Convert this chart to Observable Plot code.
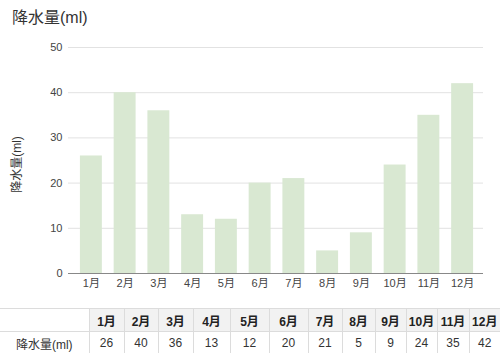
<!DOCTYPE html>
<html>
<head>
<meta charset="utf-8">
<script src="https://cdn.jsdelivr.net/npm/d3@7"></script>
<script src="https://cdn.jsdelivr.net/npm/@observablehq/plot@0.6"></script>
<style>
  body { margin: 0; background: #fff; font-family: "Liberation Sans", Arial, "Noto Sans CJK JP", sans-serif; color: #333; }
  #title { height: 35px; line-height: 36px; padding-left: 12px; font-size: 16px; color: #333; }
  #chart svg { display: block; }
  table { border-collapse: collapse; table-layout: fixed; width: 500px; margin-top: 3px; font-size: 12px; }
  td, th { border: 1px solid #dcdcdc; text-align: center; height: 22px; padding: 0; }
  th { background: #f2f2f2; font-weight: bold; color: #222; }
  th.blank { background: #fff; border-left: none; border-bottom: 1px solid #dcdcdc; }
  td.label { border-left: none; }
  tr:last-child td { border-bottom: none; }
  th:last-child, td:last-child { border-right: none; }
</style>
</head>
<body>
<div id="title">降水量(ml)</div>
<div id="chart"></div>
<div id="table"></div>
<script>
const months = ["1月","2月","3月","4月","5月","6月","7月","8月","9月","10月","11月","12月"];
const rainfall = [26, 40, 36, 13, 12, 20, 21, 5, 9, 24, 35, 42];
const yTicks = [0, 10, 20, 30, 40, 50];
const seriesName = "降水量(ml)";
const colWidths = [89, 35, 34, 35, 37, 39, 39, 34, 33, 31, 31, 32, 31];

const data = months.map((m, i) => ({month: m, value: rainfall[i]}));

const chart = Plot.plot({
  width: 500,
  height: 270,
  marginTop: 12,
  marginBottom: 32,
  marginLeft: 68,
  marginRight: 17,
  style: {fontFamily: '"Liberation Sans", Arial, "Noto Sans CJK JP", sans-serif', fontSize: "11px", color: "#444"},
  x: {domain: months, paddingInner: 0.35, paddingOuter: 0.175, insetLeft: 6, insetRight: 4, round: false, label: null},
  y: {domain: [0, 50], ticks: yTicks, label: null},
  marks: [
    Plot.gridY(yTicks, {stroke: "#e2e2e2", strokeOpacity: 1}),
    Plot.barY(data, {x: "month", y: "value", fill: "#d9e8d2"}),
    Plot.ruleY([0], {stroke: "#888"}),
    Plot.axisX({tickSize: 0, tickPadding: 6, label: null, fontSize: 11}),
    Plot.axisY(yTicks, {tickSize: 0, tickPadding: 6, label: null, fontSize: 11}),
    Plot.text([seriesName], {frameAnchor: "left", textAnchor: "middle", dx: -51, dy: 4, rotate: -90, fontSize: 12, fill: "#333"})
  ]
});
document.getElementById("chart").appendChild(chart);

// table
const table = document.createElement("table");
const cg = document.createElement("colgroup");
colWidths.forEach(w => { const c = document.createElement("col"); c.style.width = w + "px"; cg.appendChild(c); });
table.appendChild(cg);
const hr = document.createElement("tr");
const blank = document.createElement("th"); blank.className = "blank"; hr.appendChild(blank);
months.forEach(m => { const th = document.createElement("th"); th.textContent = m; hr.appendChild(th); });
table.appendChild(hr);
const dr = document.createElement("tr");
const lab = document.createElement("td"); lab.className = "label"; lab.textContent = seriesName; dr.appendChild(lab);
rainfall.forEach(v => { const td = document.createElement("td"); td.textContent = v; dr.appendChild(td); });
table.appendChild(dr);
document.getElementById("table").appendChild(table);
</script>
</body>
</html>
